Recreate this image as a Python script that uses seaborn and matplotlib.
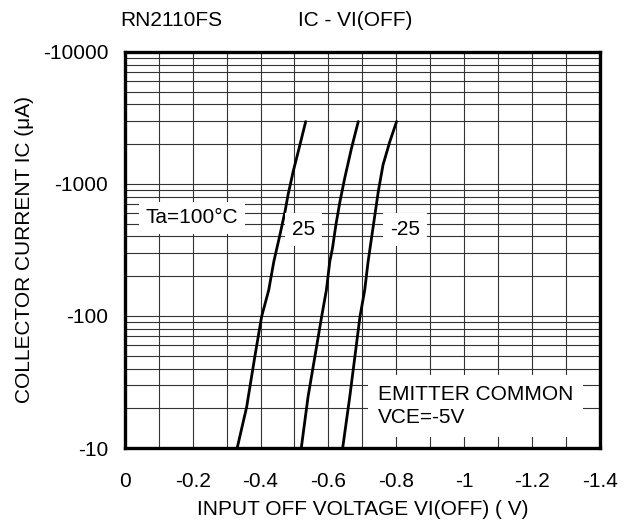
import numpy as np
import pandas as pd
import matplotlib
matplotlib.use("Agg")
import matplotlib.pyplot as plt
import seaborn as sns
from matplotlib.ticker import FixedLocator, FixedFormatter, LogLocator, NullFormatter

# ============ Data ============
# input off voltage magnitude |VI(OFF)| in V, collector current magnitude |IC| in uA
v_100 = [0.331, 0.359, 0.383, 0.403, 0.424, 0.439, 0.457, 0.472, 0.481, 0.496, 0.516, 0.533]
i_100 = [10, 20.5, 49.1, 98.8, 157, 258, 411, 617, 826, 1238, 1974, 2965]

v_25 = [0.520, 0.540, 0.560, 0.580, 0.594, 0.604, 0.612, 0.622, 0.634, 0.648, 0.668, 0.688]
i_25 = [10, 24.5, 49.1, 98.8, 157, 258, 326, 489, 735, 1104, 1862, 2965]

v_m25 = [0.642, 0.663, 0.678, 0.693, 0.707, 0.717, 0.727, 0.737, 0.747, 0.761, 0.781, 0.801]
i_m25 = [10, 24.5, 49.1, 98.8, 157, 258, 388, 582, 875, 1393, 2089, 2965]

x_ticks = [0, 0.2, 0.4, 0.6, 0.8, 1.0, 1.2, 1.4]
x_labels = ["0", "-0.2", "-0.4", "-0.6", "-0.8", "-1", "-1.2", "-1.4"]
y_ticks = [10, 100, 1000, 10000]
y_labels = ["-10", "-100", "-1000", "-10000"]

# ============ Build frame ============
df = pd.concat([
    pd.DataFrame({"v": v_100, "ic": i_100, "ta": "100"}),
    pd.DataFrame({"v": v_25, "ic": i_25, "ta": "25"}),
    pd.DataFrame({"v": v_m25, "ic": i_m25, "ta": "-25"}),
])

sns.set_style("white")
plt.rcParams["font.family"] = ["Liberation Sans", "DejaVu Sans"]
plt.rcParams["text.color"] = "black"
plt.rcParams["axes.labelcolor"] = "black"
plt.rcParams["xtick.color"] = "black"
plt.rcParams["ytick.color"] = "black"

FS = 15

fig = plt.figure(figsize=(6.34, 5.29), dpi=100)
ax = fig.add_axes([0.197, 0.153, 0.749, 0.749])

for ta, sub in df.groupby("ta", sort=False):
    sns.lineplot(data=sub, x="v", y="ic", ax=ax, color="black", linewidth=2.0,
                 estimator=None, sort=False, legend=False)

ax.set_yscale("log")
ax.set_xlim(0, 1.4)
ax.set_ylim(10, 10000)

ax.xaxis.set_major_locator(FixedLocator(x_ticks))
ax.xaxis.set_major_formatter(FixedFormatter(x_labels))
ax.xaxis.set_minor_locator(FixedLocator(np.arange(1, 14) / 10))
ax.yaxis.set_major_locator(FixedLocator(y_ticks))
ax.yaxis.set_major_formatter(FixedFormatter(y_labels))
ax.yaxis.set_minor_locator(LogLocator(base=10, subs=np.arange(2, 10)))
ax.yaxis.set_minor_formatter(NullFormatter())

ax.grid(True, which="both", color="0.2", linewidth=0.8)
ax.tick_params(which="both", length=0, labelsize=FS)
ax.tick_params(axis="x", pad=17)
ax.tick_params(axis="y", pad=12)
for sp in ax.spines.values():
    sp.set_linewidth(2.4)
    sp.set_color("black")

ax.set_xlabel("INPUT OFF VOLTAGE VI(OFF) ( V)", fontsize=FS, labelpad=7)
ax.set_ylabel("COLLECTOR CURRENT IC (\u03bcA)", fontsize=FS, labelpad=6)

box = dict(facecolor="white", edgecolor="none", pad=5)
ax.text(0.062, 552, "Ta=100\u00b0C", fontsize=FS, bbox=box, va="center", zorder=5)
ax.text(0.492, 449, "25", fontsize=FS, bbox=box, va="center", zorder=5)
ax.text(0.781, 449, "-25", fontsize=FS, bbox=box, va="center", zorder=5)
ax.text(0.746, 20.8, "EMITTER COMMON\nVCE=-5V", fontsize=FS,
        bbox=dict(facecolor="white", edgecolor="none", pad=7),
        va="center", linespacing=1.3, zorder=5)

fig.text(0.27, 0.962, "RN2110FS", fontsize=FS, ha="center", va="center")
fig.text(0.56, 0.962, "IC - VI(OFF)", fontsize=FS, ha="center", va="center")

fig.savefig("out.png", dpi=100)
